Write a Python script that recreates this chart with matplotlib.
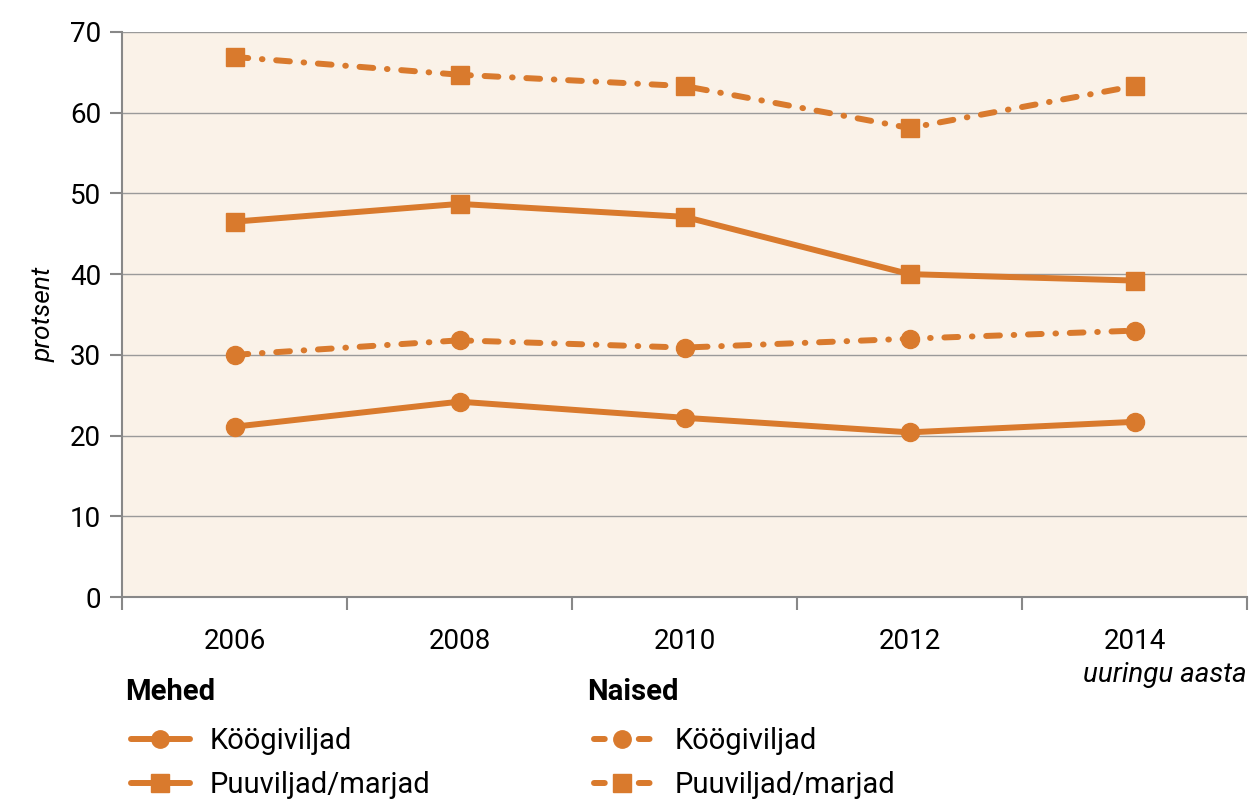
import matplotlib
matplotlib.use("Agg")
import matplotlib.pyplot as plt
from matplotlib.lines import Line2D

years = ["2006", "2008", "2010", "2012", "2014"]
mehed_kooegiviljad = [21.1, 24.2, 22.2, 20.4, 21.7]
mehed_puuviljad = [46.5, 48.7, 47.1, 40.0, 39.2]
naised_kooegiviljad = [30.0, 31.8, 30.9, 32.0, 33.0]
naised_puuviljad = [66.9, 64.7, 63.3, 58.1, 63.3]
y_ticks = [0, 10, 20, 30, 40, 50, 60, 70]

ORANGE = "#D97A2D"
BG = "#FAF2E8"
GRID = "#9A9A9A"
LW = 4.3
DASHDOT = (0, (2.3, 2.3, 0.1, 2.3))

plt.rcParams["font.family"] = ["Roboto", "DejaVu Sans"]

fig = plt.figure(figsize=(12.5, 7.99), dpi=100)
ax = fig.add_axes([0.0976, 0.2528, 0.9, 0.7072])
ax.set_facecolor(BG)

x = list(range(len(years)))

ax.plot(x, mehed_kooegiviljad, color=ORANGE, lw=LW, marker="o", ms=13,
        solid_capstyle="round", zorder=3)
ax.plot(x, mehed_puuviljad, color=ORANGE, lw=LW, marker="s", ms=12.5,
        solid_capstyle="round", zorder=3)
ax.plot(x, naised_kooegiviljad, color=ORANGE, lw=LW, marker="o", ms=13,
        linestyle=DASHDOT, dash_capstyle="round", zorder=3)
ax.plot(x, naised_puuviljad, color=ORANGE, lw=LW, marker="s", ms=12.5,
        linestyle=DASHDOT, dash_capstyle="round", zorder=3)

ax.set_xlim(-0.5, len(years) - 0.5)
ax.set_ylim(0, 70)

ax.set_yticks(y_ticks)
ax.set_yticklabels([str(v) for v in y_ticks], fontsize=20)
ax.yaxis.grid(True, color=GRID, lw=1.0, zorder=1)
ax.set_axisbelow(True)

ax.set_xticks(x)
ax.set_xticklabels(years, fontsize=20)
ax.set_xticks([i - 0.5 for i in range(len(years) + 1)], minor=True)
ax.tick_params(axis="x", which="major", length=0, pad=22)
ax.tick_params(axis="x", which="minor", length=9, width=1.5, color="#888888",
               direction="out")
ax.tick_params(axis="y", length=9, width=1.5, color="#888888", pad=6)

for side in ("top", "right"):
    ax.spines[side].set_visible(False)
for side in ("left", "bottom"):
    ax.spines[side].set_color("#888888")
    ax.spines[side].set_linewidth(1.5)

ax.set_ylabel("protsent", fontsize=19, style="italic", labelpad=10)
fig.text(0.9976, 0.155, "uuringu aasta", fontsize=20, style="italic",
         ha="right", va="center")

# Legend groups: bold heading + two entries each
def handle(marker, dashed):
    if dashed:
        return Line2D([], [], color=ORANGE, lw=LW, marker=marker, ms=12.5,
                      linestyle=(0, (1.8, 5.7)), dash_capstyle="round")
    return Line2D([], [], color=ORANGE, lw=LW, marker=marker, ms=12.5,
                  solid_capstyle="round")

labels = ["Köögiviljad", "Puuviljad/marjad"]
common = dict(frameon=False, fontsize=21, labelspacing=0.55,
              borderaxespad=0, borderpad=0, loc="upper left")

fig.text(0.100, 0.134, "Mehed", fontsize=21, fontweight="bold",
         ha="left", va="center")
fig.text(0.4696, 0.134, "Naised", fontsize=21, fontweight="bold",
         ha="left", va="center")

leg1 = fig.legend([handle("o", False), handle("s", False)], labels,
                  bbox_to_anchor=(0.105, 0.090), handlelength=2.0,
                  handletextpad=0.68, **common)
leg2 = fig.legend([handle("o", True), handle("s", True)], labels,
                  bbox_to_anchor=(0.4752, 0.090), handlelength=1.92,
                  handletextpad=0.86, **common)

fig.savefig("out.png", dpi=100)
